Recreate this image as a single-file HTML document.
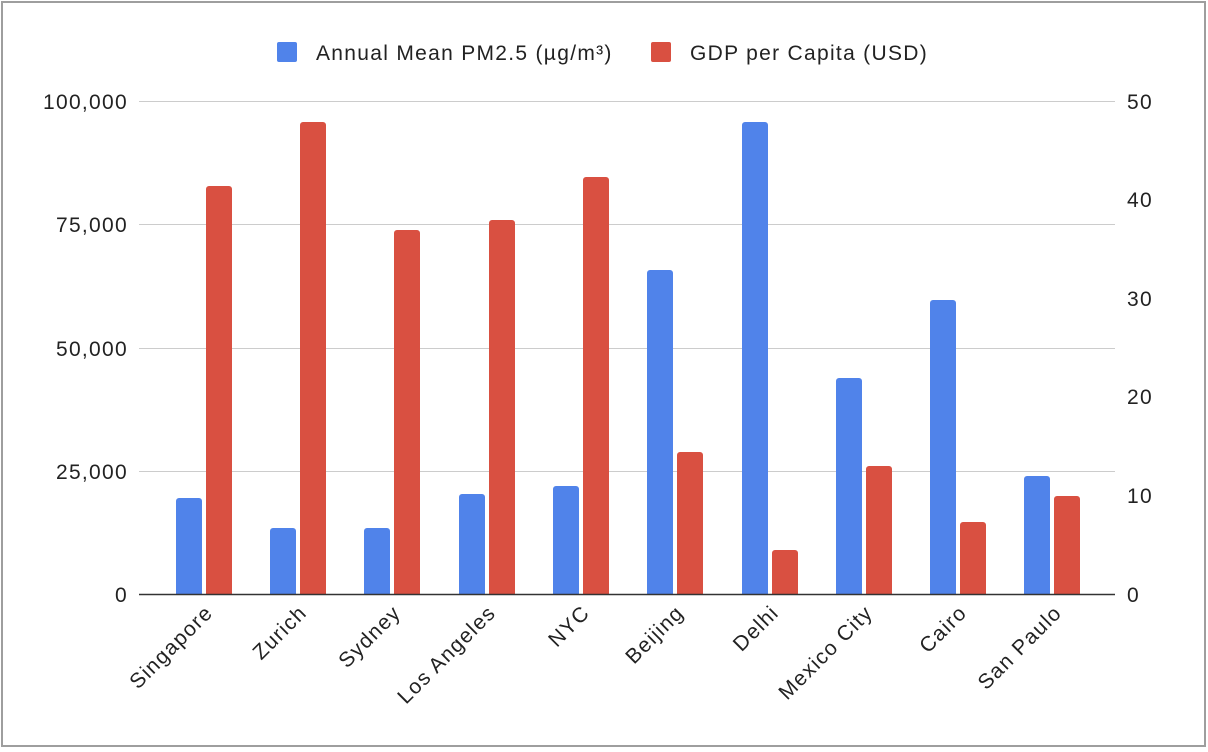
<!DOCTYPE html>
<html><head><meta charset="utf-8"><style>
html,body{margin:0;padding:0;background:#fff}
svg{display:block;font-family:"Liberation Sans",Arial,sans-serif}
text{letter-spacing:1.3px}
</style></head><body>
<svg width="1208" height="752" viewBox="0 0 1208 752">
<rect x="2" y="2" width="1203" height="744" fill="#fff" stroke="#9e9e9e" stroke-width="2"/>
<g stroke="#ccc" stroke-width="1">
<line x1="139" y1="101.5" x2="1115" y2="101.5"/>
<line x1="139" y1="224.5" x2="1115" y2="224.5"/>
<line x1="139" y1="348.5" x2="1115" y2="348.5"/>
<line x1="139" y1="471.5" x2="1115" y2="471.5"/>
</g>
<g font-size="21" fill="#222" text-anchor="end">
<text x="128" y="109">100,000</text>
<text x="128" y="232">75,000</text>
<text x="128" y="356">50,000</text>
<text x="128" y="479">25,000</text>
<text x="128" y="602">0</text>
</g>
<g font-size="21" fill="#222" text-anchor="start">
<text x="1127" y="109">50</text>
<text x="1127" y="207">40</text>
<text x="1127" y="306">30</text>
<text x="1127" y="404">20</text>
<text x="1127" y="503">10</text>
<text x="1127" y="602">0</text>
</g>
<rect x="277" y="42" width="20" height="20" fill="#5083ea" rx="2"/>
<text x="316" y="60" font-size="21" fill="#222">Annual Mean PM2.5 (µg/m³)</text>
<rect x="651" y="42" width="20" height="20" fill="#d95041" rx="2"/>
<text x="690" y="60" font-size="21" fill="#222">GDP per Capita (USD)</text>
<g fill="#5083ea">
<path d="M176 594V501a3 3 0 0 1 3-3h20a3 3 0 0 1 3 3V594z"/>
<path d="M270 594V531a3 3 0 0 1 3-3h20a3 3 0 0 1 3 3V594z"/>
<path d="M364 594V531a3 3 0 0 1 3-3h20a3 3 0 0 1 3 3V594z"/>
<path d="M459 594V497a3 3 0 0 1 3-3h20a3 3 0 0 1 3 3V594z"/>
<path d="M553 594V489a3 3 0 0 1 3-3h20a3 3 0 0 1 3 3V594z"/>
<path d="M647 594V273a3 3 0 0 1 3-3h20a3 3 0 0 1 3 3V594z"/>
<path d="M742 594V125a3 3 0 0 1 3-3h20a3 3 0 0 1 3 3V594z"/>
<path d="M836 594V381a3 3 0 0 1 3-3h20a3 3 0 0 1 3 3V594z"/>
<path d="M930 594V303a3 3 0 0 1 3-3h20a3 3 0 0 1 3 3V594z"/>
<path d="M1024 594V479a3 3 0 0 1 3-3h20a3 3 0 0 1 3 3V594z"/>
</g>
<g fill="#d95041">
<path d="M206 594V189a3 3 0 0 1 3-3h20a3 3 0 0 1 3 3V594z"/>
<path d="M300 594V125a3 3 0 0 1 3-3h20a3 3 0 0 1 3 3V594z"/>
<path d="M394 594V233a3 3 0 0 1 3-3h20a3 3 0 0 1 3 3V594z"/>
<path d="M489 594V223a3 3 0 0 1 3-3h20a3 3 0 0 1 3 3V594z"/>
<path d="M583 594V180a3 3 0 0 1 3-3h20a3 3 0 0 1 3 3V594z"/>
<path d="M677 594V455a3 3 0 0 1 3-3h20a3 3 0 0 1 3 3V594z"/>
<path d="M772 594V553a3 3 0 0 1 3-3h20a3 3 0 0 1 3 3V594z"/>
<path d="M866 594V469a3 3 0 0 1 3-3h20a3 3 0 0 1 3 3V594z"/>
<path d="M960 594V525a3 3 0 0 1 3-3h20a3 3 0 0 1 3 3V594z"/>
<path d="M1054 594V499a3 3 0 0 1 3-3h20a3 3 0 0 1 3 3V594z"/>
</g>
<line x1="139" y1="594.5" x2="1115" y2="594.5" stroke="#333" stroke-width="1.5"/>
<g font-size="21" fill="#222" text-anchor="end">
<text transform="translate(214,614) rotate(-45)">Singapore</text>
<text transform="translate(308,614) rotate(-45)">Zurich</text>
<text transform="translate(402,614) rotate(-45)">Sydney</text>
<text transform="translate(497,614) rotate(-45)">Los Angeles</text>
<text transform="translate(591,614) rotate(-45)">NYC</text>
<text transform="translate(685,614) rotate(-45)">Beijing</text>
<text transform="translate(780,614) rotate(-45)">Delhi</text>
<text transform="translate(874,614) rotate(-45)">Mexico City</text>
<text transform="translate(968,614) rotate(-45)">Cairo</text>
<text transform="translate(1063,614) rotate(-45)">San Paulo</text>
</g>
</svg>
</body></html>
